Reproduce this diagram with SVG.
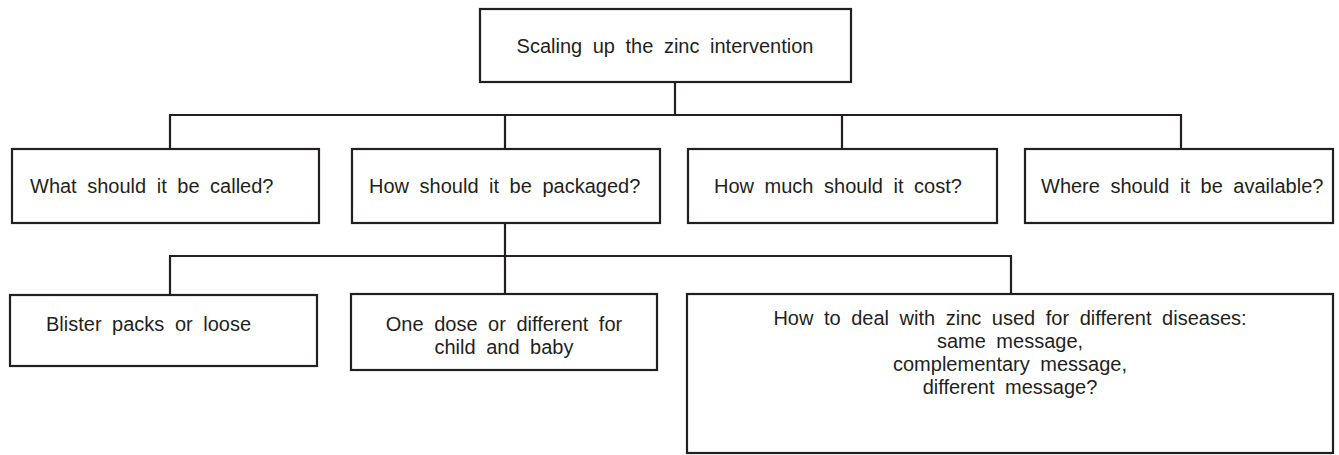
<svg xmlns="http://www.w3.org/2000/svg" width="1339" height="455" viewBox="0 0 1339 455">
  <style>
    .box { fill: #ffffff; stroke: #231f20; stroke-width: 2.2; }
    .wire { fill: none; stroke: #231f20; stroke-width: 2.2; }
    text { font-family: "Liberation Sans", Arial, sans-serif; font-size: 20px; fill: #231f20; word-spacing: 5px; }
    .c { text-anchor: middle; }
  </style>
  <rect width="1339" height="455" fill="#ffffff"/>

  <g id="connectors">
    <!-- root to first tier -->
    <path class="wire" d="M675,82 V115 M170,149 V115 H1181 V149 M505,115 V149 M842,115 V149"/>
    <!-- packaging to second tier -->
    <path class="wire" d="M505,223 V256 M170,295 V256 H1011 V294 M505,256 V294"/>
  </g>

  <g id="root">
    <rect class="box" x="480" y="9" width="371" height="73"/>
    <text class="c" x="665" y="53">Scaling up the zinc intervention</text>
  </g>

  <g id="name">
    <rect class="box" x="12" y="149" width="307" height="74"/>
    <text x="30" y="193">What should it be called?</text>
  </g>
  <g id="packaging">
    <rect class="box" x="352" y="149" width="308" height="74"/>
    <text x="369" y="193">How should it be packaged?</text>
  </g>
  <g id="cost">
    <rect class="box" x="688" y="149" width="309" height="74"/>
    <text x="714" y="193">How much should it cost?</text>
  </g>
  <g id="availability">
    <rect class="box" x="1025" y="149" width="308" height="74"/>
    <text x="1041" y="193">Where should it be available?</text>
  </g>

  <g id="blister">
    <rect class="box" x="10" y="295" width="307" height="71"/>
    <text x="46" y="331">Blister packs or loose</text>
  </g>
  <g id="dose">
    <rect class="box" x="351" y="294" width="306" height="76"/>
    <text class="c" x="504" y="331">One dose or different for</text>
    <text class="c" x="504" y="354">child and baby</text>
  </g>
  <g id="messages">
    <rect class="box" x="687" y="294" width="646" height="159"/>
    <text class="c" x="1010" y="325">How to deal with zinc used for different diseases:</text>
    <text class="c" x="1010" y="348">same message,</text>
    <text class="c" x="1010" y="371">complementary message,</text>
    <text class="c" x="1010" y="394">different message?</text>
  </g>
</svg>
